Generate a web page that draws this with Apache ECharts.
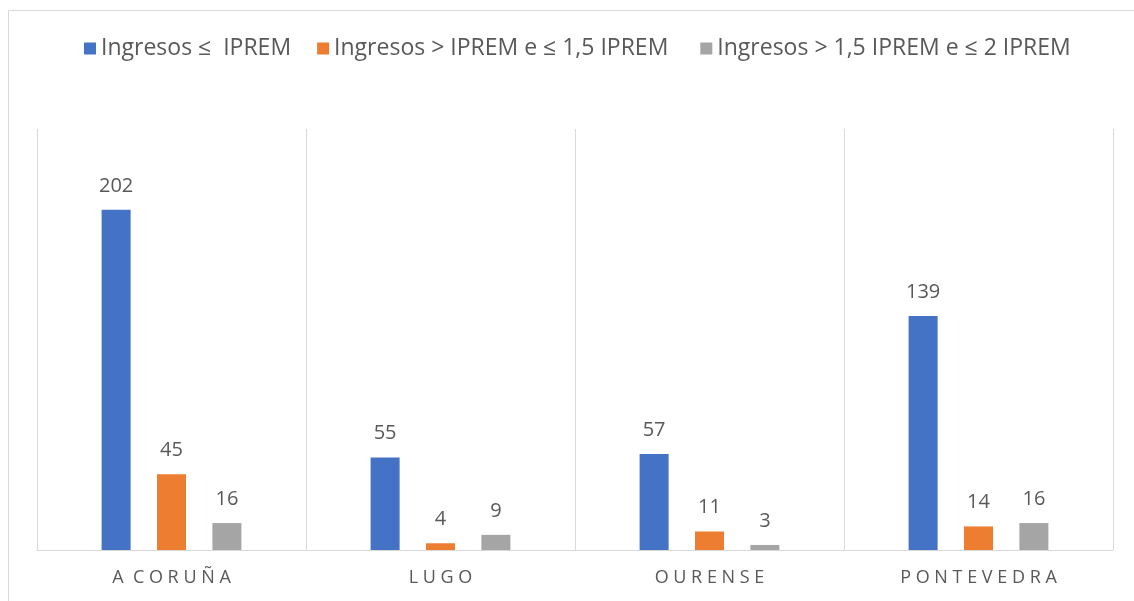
<!DOCTYPE html>
<html>
<head>
<meta charset="utf-8">
<script src="https://cdn.jsdelivr.net/npm/echarts@6/dist/echarts.min.js"></script>
<style>
html,body{margin:0;padding:0;background:#fff;}
#chart{width:1134px;height:601px;}
</style>
</head>
<body>
<div id="chart"></div>
<script>
const categories = ['A CORUÑA', 'LUGO', 'OURENSE', 'PONTEVEDRA'];
const seriesNames = ['Ingresos \u2264  IPREM', 'Ingresos > IPREM e \u2264 1,5 IPREM', 'Ingresos > 1,5 IPREM e \u2264 2 IPREM'];
const serie1 = [202, 55, 57, 139];
const serie2 = [45, 4, 11, 14];
const serie3 = [16, 9, 3, 16];
const colors = ['#4472c4', '#ed7d31', '#a5a5a5'];

const font = 'Open Sans';
const chart = echarts.init(document.getElementById('chart'), null, {renderer: 'canvas'});
const mk = (name, data, color) => ({
  name: name,
  type: 'bar',
  data: data,
  barWidth: 29,
  barGap: '91%',
  itemStyle: {color: color},
  label: {show: true, position: 'top', distance: 14, color: '#595959', fontSize: 20, fontFamily: font},
  emphasis: {disabled: true}
});
chart.setOption({
  animation: false,
  color: colors,
  graphic: [{
    type: 'rect', silent: true, z: -1,
    shape: {x: 8.5, y: 10.5, width: 1200, height: 700},
    style: {fill: null, stroke: '#d9d9d9', lineWidth: 1}
  }],
  legend: {
    top: 32, left: 79,
    itemWidth: 12, itemHeight: 12, itemGap: 26,
    icon: 'rect',
    formatter: n => n === seriesNames[1] ? n + ' ' : n,
    textStyle: {color: '#595959', fontSize: 23, fontFamily: font},
    data: seriesNames
  },
  grid: {left: 37, right: 21, top: 129, bottom: 51},
  xAxis: {
    type: 'category',
    data: categories,
    axisLine: {lineStyle: {color: '#d9d9d9', width: 1}},
    axisTick: {show: false},
    splitLine: {show: true, interval: 0, lineStyle: {color: '#d9d9d9', width: 1}},
    axisLabel: {
      color: '#595959', fontSize: 18, fontFamily: font, margin: 19,
      formatter: v => v.split(' ').map(w => w.split('').join(' ')).join('  ')
    }
  },
  yAxis: {type: 'value', min: 0, max: 250, show: false, splitLine: {show: false}},
  series: [mk(seriesNames[0], serie1, colors[0]), mk(seriesNames[1], serie2, colors[1]), mk(seriesNames[2], serie3, colors[2])]
});
</script>
</body>
</html>
